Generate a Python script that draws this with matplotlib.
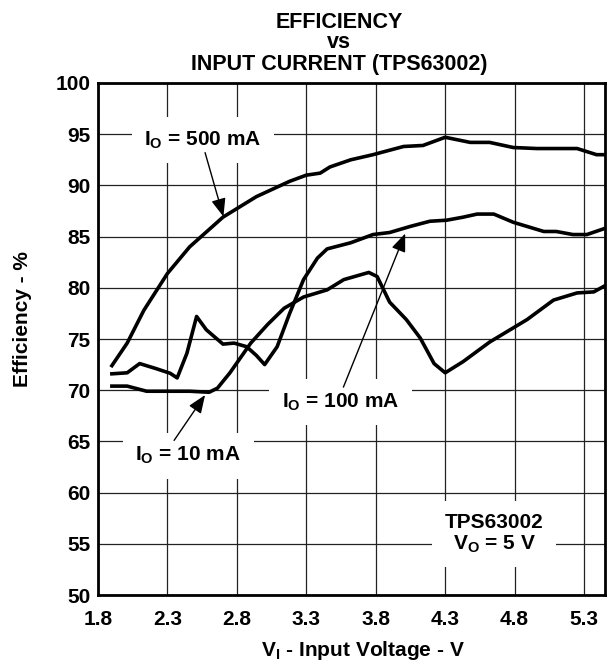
import numpy as np
import matplotlib
matplotlib.use('Agg')
import matplotlib.pyplot as plt

plt.rcParams['font.family'] = ['Liberation Sans', 'DejaVu Sans']
plt.rcParams['font.weight'] = 'bold'
plt.rcParams['mathtext.fontset'] = 'custom'
plt.rcParams['mathtext.rm'] = 'Liberation Sans:bold'
plt.rcParams['mathtext.it'] = 'Liberation Sans:bold'
plt.rcParams['mathtext.bf'] = 'Liberation Sans:bold'

# values
x_500 = [1.90, 2.01, 2.13, 2.30, 2.46, 2.70, 2.94, 3.18, 3.30, 3.40, 3.47, 3.62,
         3.78, 4.00, 4.14, 4.30, 4.48, 4.62, 4.79, 4.96, 5.25, 5.39, 5.45]
eff_500 = [72.4, 74.6, 77.8, 81.4, 84.0, 86.9, 88.9, 90.4, 91.0, 91.2, 91.8, 92.5,
           93.0, 93.8, 93.9, 94.7, 94.2, 94.2, 93.7, 93.6, 93.6, 93.0, 93.0]

x_100 = [1.90, 2.01, 2.10, 2.22, 2.32, 2.37, 2.44, 2.51, 2.58, 2.70, 2.78, 2.87,
         2.94, 3.00, 3.09, 3.18, 3.28, 3.38, 3.45, 3.62, 3.78, 3.90, 4.05, 4.19,
         4.31, 4.43, 4.53, 4.65, 4.79, 5.01, 5.10, 5.22, 5.32, 5.45]
eff_100 = [71.6, 71.7, 72.6, 72.1, 71.65, 71.2, 73.6, 77.2, 75.9, 74.5, 74.6, 74.25,
           73.4, 72.5, 74.25, 77.5, 80.8, 82.9, 83.8, 84.4, 85.2, 85.4, 86.0, 86.5,
           86.6, 86.9, 87.2, 87.2, 86.4, 85.5, 85.5, 85.2, 85.2, 85.8]

x_10 = [1.90, 2.01, 2.15, 2.30, 2.46, 2.60, 2.66, 2.75, 2.90, 3.02, 3.14, 3.28,
        3.45, 3.57, 3.75, 3.81, 3.90, 4.02, 4.12, 4.22, 4.30, 4.43, 4.62, 4.89,
        5.08, 5.25, 5.37, 5.45]
eff_10 = [70.4, 70.4, 69.9, 69.9, 69.9, 69.8, 70.2, 71.7, 74.6, 76.4, 78.0, 79.1,
          79.8, 80.8, 81.5, 81.1, 78.6, 76.9, 75.1, 72.6, 71.7, 72.8, 74.7, 76.9,
          78.8, 79.5, 79.6, 80.2]

x_ticks = [1.8, 2.3, 2.8, 3.3, 3.8, 4.3, 4.8, 5.3]
y_ticks = [50, 55, 60, 65, 70, 75, 80, 85, 90, 95, 100]

FS = 15

fig = plt.figure(figsize=(6.11, 6.64), dpi=100)
ax = fig.add_axes([0.1604, 0.1039, 0.8296, 0.7711])

for xs, ys in [(x_500, eff_500), (x_100, eff_100), (x_10, eff_10)]:
    ax.plot(xs, ys, color='black', lw=2.6, solid_joinstyle='round', zorder=3)

ax.set_xlim(1.8, 5.45)
ax.set_ylim(50, 100)
ax.set_xticks(x_ticks)
ax.set_yticks(y_ticks)
ax.set_xticklabels([f'{v:.1f}' for v in x_ticks])
ax.tick_params(length=0, labelsize=FS)
ax.tick_params(axis='x', pad=10.5)
ax.tick_params(axis='y', pad=5.5)
ax.grid(True, color='#222222', lw=0.9)
ax.set_axisbelow(True)
for sp in ax.spines.values():
    sp.set_linewidth(2.0)

ax.set_xlabel(r'V$_\mathrm{I}$ - Input Voltage - V', fontsize=FS, fontweight='bold')
ax.xaxis.set_label_coords(0.523, -0.086)
ax.set_ylabel('Efficiency - %', fontsize=FS, fontweight='bold')
ax.yaxis.set_label_coords(-0.130, 0.539)

for txt, yy in [('EFFICIENCY', 636), ('vs', 616), ('INPUT CURRENT (TPS63002)', 594)]:
    fig.text(0.555, yy / 664, txt, ha='center', va='baseline', fontsize=15.5,
             fontweight='bold')

box = dict(boxstyle='square,pad=0.6', facecolor='white', edgecolor='none')
arrow = dict(arrowstyle='-|>,head_length=0.55,head_width=0.22', color='black',
             lw=1.0, mutation_scale=20, shrinkA=0, shrinkB=0)

ax.text(2.556, 94.4, r'I$_\mathrm{O}$ = 500 mA', ha='center', va='center',
        fontsize=FS, bbox=box, zorder=5)
ax.annotate('', xy=(2.703, 86.95), xytext=(2.571, 93.2), arrowprops=arrow, zorder=6)

ax.text(3.545, 68.85, r'I$_\mathrm{O}$ = 100 mA', ha='center', va='center',
        fontsize=FS, bbox=box, zorder=5)
ax.annotate('', xy=(4.012, 85.3), xytext=(3.567, 70.3), arrowprops=arrow, zorder=6)

ax.text(2.45, 63.6, r'I$_\mathrm{O}$ = 10 mA', ha='center', va='center',
        fontsize=FS, bbox=box, zorder=5)
ax.annotate('', xy=(2.571, 69.53), xytext=(2.348, 65.1), arrowprops=arrow, zorder=6)

ax.text(4.653, 56.0, 'TPS63002\n' + r'V$_\mathrm{O}$ = 5 V', ha='center', va='center',
        fontsize=FS, bbox=box, zorder=5, linespacing=1.1)

fig.savefig('out.png', dpi=100)
